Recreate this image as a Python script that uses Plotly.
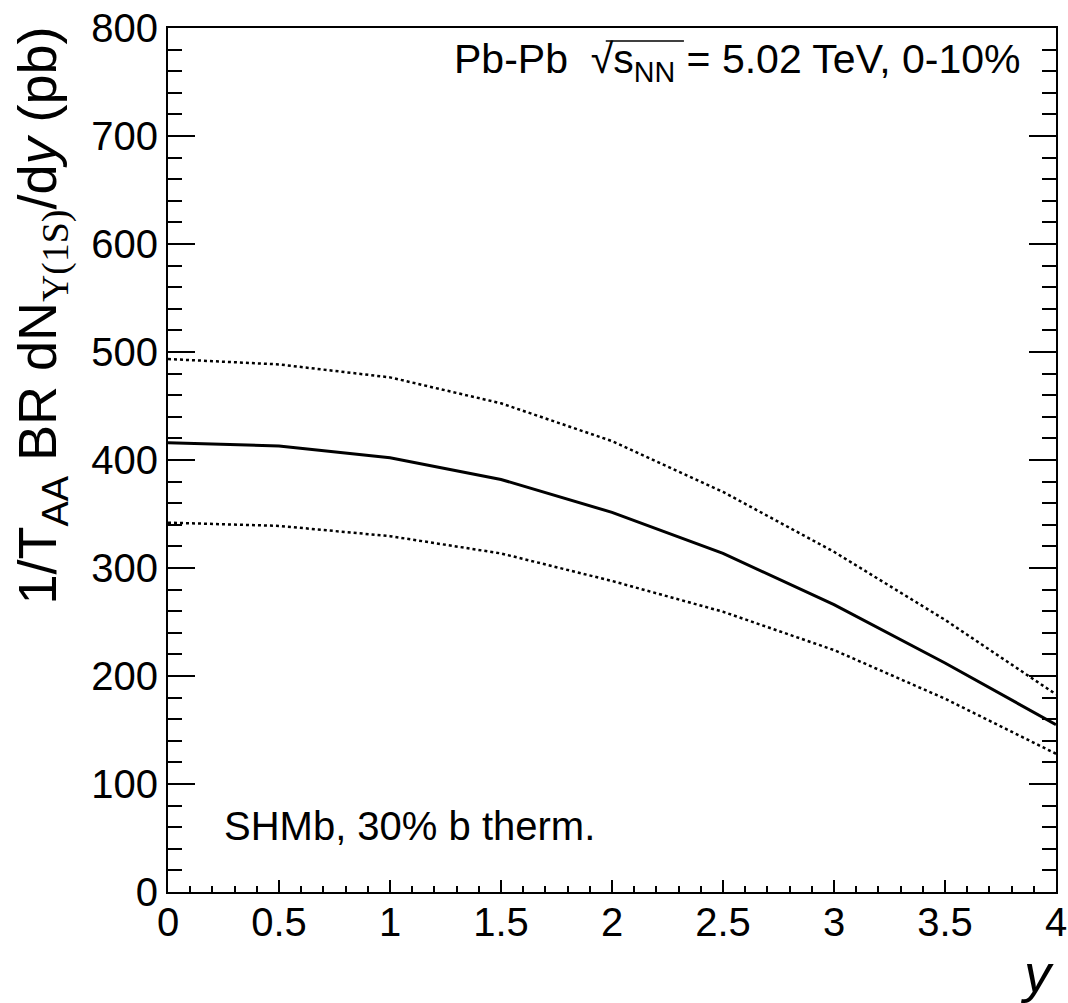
import plotly.graph_objects as go

rapidity = [0, 0.5, 1, 1.5, 2, 2.5, 3, 3.5, 4]
central = [416, 413, 402, 382, 351.5, 313.5, 266, 212, 155]
upper = [493.5, 488.5, 476.5, 452.5, 417.5, 370.5, 315, 252, 183]
lower = [342, 339, 329.5, 313.5, 288, 259.5, 224, 179, 128]

x_ticks = [0, 0.5, 1, 1.5, 2, 2.5, 3, 3.5, 4]
x_tick_text = ["0", "0.5", "1", "1.5", "2", "2.5", "3", "3.5", "4"]
y_ticks = [0, 100, 200, 300, 400, 500, 600, 700, 800]
y_tick_text = [str(v) for v in y_ticks]

FONT = "Liberation Sans, Arial, sans-serif"

fig = go.Figure()
fig.add_trace(go.Scatter(x=rapidity, y=upper, mode="lines",
                         line=dict(color="black", width=2.5, dash="dot"), showlegend=False))
fig.add_trace(go.Scatter(x=rapidity, y=lower, mode="lines",
                         line=dict(color="black", width=2.5, dash="dot"), showlegend=False))
fig.add_trace(go.Scatter(x=rapidity, y=central, mode="lines",
                         line=dict(color="black", width=3), showlegend=False))

fig.update_layout(
    width=1068, height=1003,
    margin=dict(l=168, r=12, t=28, b=111, autoexpand=False),
    paper_bgcolor="white", plot_bgcolor="white",
    font=dict(family=FONT, color="black"),
    showlegend=False,
)
fig.update_xaxes(
    range=[0, 4], tickvals=x_ticks, ticktext=x_tick_text,
    showgrid=False, zeroline=False, automargin=False,
    showline=True, linecolor="black", linewidth=2, mirror=True,
    ticks="inside", ticklen=12, tickwidth=1.5, tickcolor="black",
    minor=dict(ticks="inside", dtick=0.1, ticklen=6, tickwidth=1.5, tickcolor="black"),
    tickfont=dict(size=40, family=FONT), ticklabelstandoff=-6,
    ticklabeloverflow="allow",
)
fig.update_yaxes(
    range=[0, 800], tickvals=y_ticks, ticktext=y_tick_text,
    showgrid=False, zeroline=False, automargin=False,
    showline=True, linecolor="black", linewidth=2, mirror="ticks",
    ticks="inside", ticklen=27, tickwidth=1.5, tickcolor="black",
    minor=dict(ticks="inside", dtick=20, ticklen=14, tickwidth=1.5, tickcolor="black"),
    tickfont=dict(size=40, family=FONT),
    ticklabeloverflow="allow",
)

fig.add_annotation(
    xref="paper", yref="paper", x=-0.142, y=1.004, xanchor="center", yanchor="top",
    textangle=-90, showarrow=False,
    text="1/T<sub>AA</sub> BR dN<sub><span style='font-family:Liberation Serif'>Υ(1S)</span></sub>/d<i>y</i> (pb)",
    font=dict(size=54, family=FONT),
)
fig.add_annotation(
    xref="paper", yref="paper", x=1.0, y=-0.094, xanchor="right", yanchor="middle",
    showarrow=False, text="<i>y</i>", font=dict(size=54, family=FONT),
)
fig.add_annotation(
    xref="paper", yref="paper", x=0.963, y=0.961, xanchor="right", yanchor="middle",
    showarrow=False, text="Pb-Pb  √s<sub>NN</sub> = 5.02 TeV, 0-10%", font=dict(size=41, family=FONT),
)
fig.add_shape(type="line", xref="paper", yref="paper",
              x0=0.493, x1=0.581, y0=0.985, y1=0.985,
              line=dict(color="black", width=1.5))
fig.add_annotation(
    xref="paper", yref="paper", x=0.0608, y=0.0764, xanchor="left", yanchor="middle",
    showarrow=False, text="SHMb, 30% b therm.", font=dict(size=40, family=FONT),
)

fig.write_html(
    "out.html",
    config={"displayModeBar": False},
    post_script="document.body.style.margin='0';document.body.style.overflow='hidden';",
)
